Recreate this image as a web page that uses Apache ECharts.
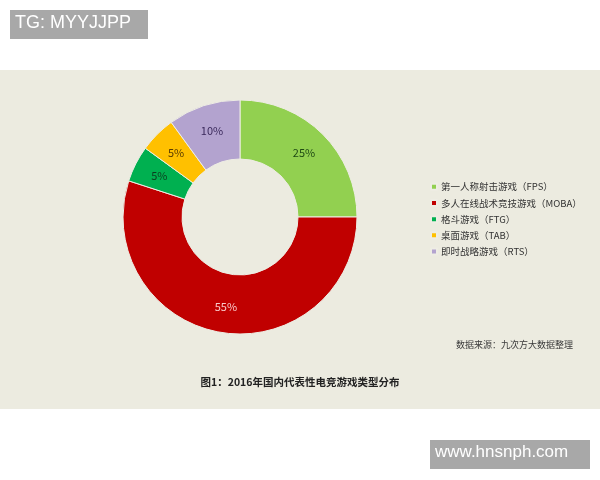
<!DOCTYPE html>
<html>
<head>
<meta charset="utf-8">
<script src="https://cdn.jsdelivr.net/npm/echarts@6/dist/echarts.min.js"></script>
<style>html,body{margin:0;padding:0;background:#fff;}#c{width:600px;height:480px;}</style>
</head>
<body>
<div id="c"></div>
<script>
var categories = ['第一人称射击游戏（FPS）', '多人在线战术竞技游戏（MOBA）', '格斗游戏（FTG）', '桌面游戏（TAB）', '即时战略游戏（RTS）'];
var values = [25, 55, 5, 5, 10];
var sliceColors = ['#92d050', '#c00000', '#00b050', '#ffc000', '#b3a3cf'];
var labelColors = ['#1f4a14', '#f7c9c9', '#0b3d1f', '#5a3c00', '#3b2a5c'];
var titleText = '图1：2016年国内代表性电竞游戏类型分布';
var sourceText = '数据来源：九次方大数据整理';

var chart = echarts.init(document.getElementById('c'), null, {renderer: 'canvas'});
var font = '"Noto Sans CJK SC", "Noto Sans", sans-serif';
chart.setOption({
  backgroundColor: '#ffffff',
  animation: false,
  color: sliceColors,
  legend: {
    orient: 'vertical',
    left: 425,
    top: 177,
    itemWidth: 6,
    itemHeight: 6,
    itemGap: 6.7,
    icon: 'rect',
    textStyle: {fontFamily: font, fontSize: 9.5, color: '#333333', padding: [0, 0, 0, -1]},
    data: categories
  },
  graphic: [
    {type: 'rect', z: -10, shape: {x: 0, y: 70, width: 600, height: 339}, style: {fill: '#ecebe0'}},
    {type: 'rect', shape: {x: 10, y: 10, width: 138, height: 29}, style: {fill: '#a8a8a8'}},
    {type: 'text', left: 15, top: 14, style: {text: 'TG: MYYJJPP', fill: '#ffffff', font: '18px "Liberation Sans", Arial, sans-serif'}},
    {type: 'rect', shape: {x: 430, y: 440, width: 160, height: 29}, style: {fill: '#a8a8a8'}},
    {type: 'text', left: 435, top: 444, style: {text: 'www.hnsnph.com', fill: '#ffffff', font: '17px "Liberation Sans", Arial, sans-serif'}},
    {type: 'text', left: 456, top: 340, style: {text: sourceText, fill: '#3a3a3a', font: '9px ' + font}},
    {type: 'text', left: 'center', top: 377, style: {text: titleText, fill: '#222222', font: 'bold 10.5px ' + font}}
  ],
  series: [{
    type: 'pie',
    center: [240, 217],
    radius: [58, 117],
    startAngle: 90,
    clockwise: true,
    avoidLabelOverlap: false,
    itemStyle: {borderColor: '#eeede4', borderWidth: 1},
    label: {position: 'inside', formatter: '{d}%', fontSize: 11, fontFamily: font},
    labelLine: {show: false},
    data: categories.map(function (c, i) {
      return {name: c, value: values[i], label: {color: labelColors[i]}};
    })
  }]
});
</script>
</body>
</html>
